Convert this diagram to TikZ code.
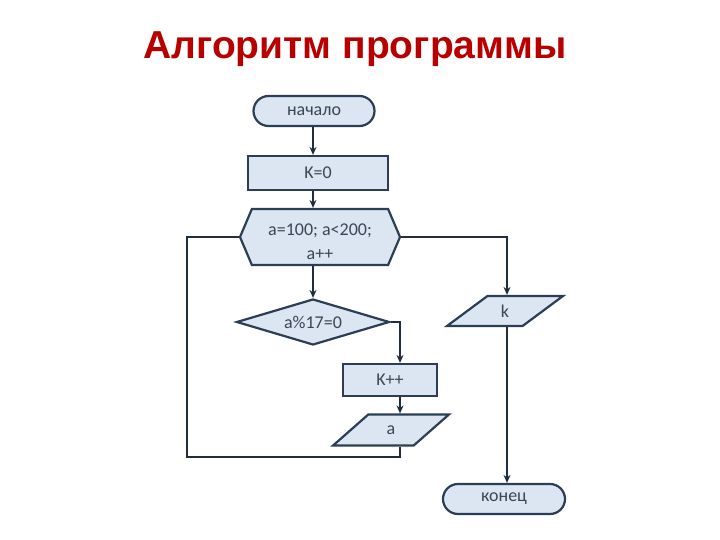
\documentclass[tikz,border=0pt]{standalone}
\usepackage{fontspec}
\setmainfont{Carlito}
\newfontfamily\titlefont{Liberation Sans}
\usetikzlibrary{shapes,arrows.meta,positioning}

\definecolor{boxfill}{HTML}{DCE6F2}
\definecolor{boxline}{HTML}{2C3E55}
\definecolor{linecol}{HTML}{1F2D3F}
\definecolor{txtcol}{HTML}{3A4656}
\definecolor{titlered}{HTML}{B80000}

\tikzset{
  block/.style={draw=boxline, fill=boxfill, line width=2.2pt, text=txtcol, inner sep=0pt,
    font=\fontsize{18}{24}\selectfont},
  term/.style={block, rounded rectangle, minimum width=121pt, minimum height=30pt},
  proc/.style={block, rectangle, minimum width=140pt, minimum height=34pt},
  loopbox/.style={block, signal, signal to=east and west, signal pointer angle=134,
    minimum width=160pt, minimum height=56pt, align=center},
  cond/.style={block, diamond, aspect=3.3, minimum width=153pt, minimum height=46pt},
  io/.style={block, trapezium, trapezium left angle=53, trapezium right angle=127,
    trapezium stretches=true, minimum width=116pt, minimum height=30pt},
  arr/.style={draw=linecol, line width=2.2pt, -{Stealth[length=8pt,width=7pt]}},
  line/.style={draw=linecol, line width=2.2pt},
}

\begin{document}
\begin{tikzpicture}[x=1pt, y=-1pt]
  \useasboundingbox (0,0) rectangle (720,540);

  \node (title) at (355,49) [text=titlered, font=\titlefont\bfseries\fontsize{39}{44}\selectfont] {Алгоритм программы};

  \node (start) at (314,111) [term] {начало};
  \node (k0) at (318,173) [proc] {K=0};
  \node (loop) at (320,237) [loopbox] {\rule{0pt}{21pt}a=100; a<200;\\a++};
  \node (check) at (313,322) [cond] {a\%17=0};
  \node (outk) at (505,311) [io] {k};
  \node (inc) at (390,380) [proc, minimum width=94pt, minimum height=32pt] {K++};
  \node (outa) at (391,430) [io, minimum height=31pt] {a};
  \node (stop) at (504,499) [term, minimum width=122pt] {конец};
  \coordinate (back) at (187,457);

  \draw [arr] (start.south -| 313,0) -- (k0.north -| 313,0);
  \draw [arr] (k0.south -| 313,0) -- (loop.north -| 313,0);
  \draw [arr] (loop.south -| 313,0) -- (check.north);
  \draw [arr] (loop.east) -| (outk.north -| 507,0);
  \draw [arr] (check.east) -| ([xshift=10pt]inc.north);
  \draw [arr] ([xshift=10pt]inc.south) -- (outa.north -| 400,0);
  \draw [line] (outa.south -| 400,0) |- (back) |- (loop.west);
  \draw [arr] (outk.south -| 507,0) -- (stop.north -| 507,0);
\end{tikzpicture}
\end{document}
